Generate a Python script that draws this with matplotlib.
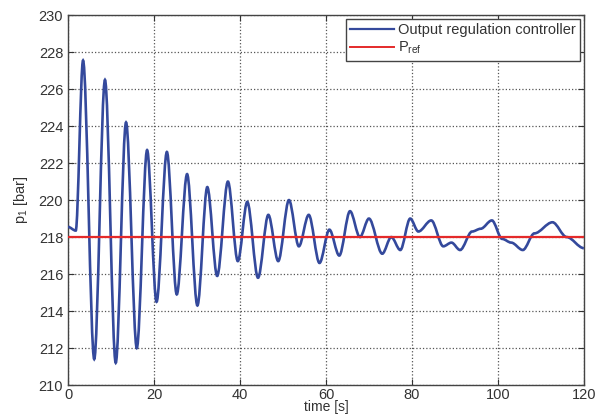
import matplotlib
matplotlib.use("Agg")
import matplotlib.pyplot as plt
from matplotlib.path import Path
from matplotlib.patches import PathPatch
from matplotlib.lines import Line2D

plt.rcParams['font.family'] = ['Liberation Sans', 'DejaVu Sans']
plt.rcParams['mathtext.fontset'] = 'custom'
plt.rcParams['mathtext.rm'] = 'Liberation Sans'
plt.rcParams['mathtext.it'] = 'Liberation Sans:italic'

# turning points of the pressure response (time [s], p1 [bar])
time_s = [0.0, 1.8, 3.5, 6.1, 8.6, 11.1, 13.5, 16.0, 18.4, 20.6, 23.0, 25.3,
          27.7, 30.1, 32.4, 34.7, 37.2, 39.5, 41.7, 44.2, 46.6, 48.9, 51.4,
          53.7, 56.0, 58.5, 60.8, 63.1, 65.6, 67.9, 70.0, 73.1, 75.2, 77.3,
          79.6, 81.5, 84.5, 87.3, 89.2, 91.2, 94.0, 96.0, 98.6, 101.0, 103.1,
          105.8, 108.5, 112.7, 116.0, 120.0]
p1_bar = [218.55, 218.35, 227.55, 211.4, 226.5, 211.2, 224.2, 212.0, 222.7,
          214.5, 222.6, 214.9, 221.4, 214.3, 220.7, 215.9, 221.0, 216.7,
          219.9, 215.8, 219.2, 216.7, 220.0, 217.5, 219.2, 216.6, 218.4,
          217.0, 219.4, 218.0, 219.0, 217.1, 218.0, 217.3, 219.0, 218.3,
          218.9, 217.5, 217.7, 217.3, 218.3, 218.45, 218.9, 217.9, 217.7,
          217.3, 218.2, 218.8, 218.0, 217.4]
p_ref = 218.0

x_ticks = [0, 20, 40, 60, 80, 100, 120]
y_ticks = [210, 212, 214, 216, 218, 220, 222, 224, 226, 228, 230]

blue = '#34499c'
red = '#e42a2a'

fig = plt.figure(figsize=(5.95, 4.17), dpi=100)
ax = fig.add_axes([0.1143, 0.0767, 0.867, 0.887])

# smooth trace: cubic segments with flat tangents at every turning point
verts = [(time_s[0], p1_bar[0])]
codes = [Path.MOVETO]
for i in range(1, len(time_s)):
    t0, y0 = time_s[i - 1], p1_bar[i - 1]
    t1, y1 = time_s[i], p1_bar[i]
    dt = t1 - t0
    verts += [(t0 + dt / 3, y0), (t1 - dt / 3, y1), (t1, y1)]
    codes += [Path.CURVE4] * 3
ax.add_patch(PathPatch(Path(verts, codes), fill=False, edgecolor=blue,
                       linewidth=1.9, zorder=3))

ax.axhline(p_ref, color=red, linewidth=1.6, zorder=4)

ax.set_xlim(0, 120)
ax.set_ylim(210, 230)
ax.set_xticks(x_ticks)
ax.set_yticks(y_ticks)
ax.grid(True, linestyle=':', color='#555555', linewidth=0.9)
ax.tick_params(direction='in', length=4, labelsize=10.5, colors='#333333',
               top=True, right=True)
ax.tick_params(axis='x', pad=2)
for s in ax.spines.values():
    s.set_color('#444444')
    s.set_linewidth(1.0)

ax.set_xlabel('time [s]', fontsize=10, color='#333333', labelpad=-1)
ax.set_ylabel(r'p$_1$ [bar]', fontsize=10.5, color='#333333', labelpad=6)

handles = [Line2D([], [], color=blue, linewidth=1.6),
           Line2D([], [], color=red, linewidth=1.4)]
leg = ax.legend(handles, ['Output regulation controller', r'P$_{\mathrm{ref}}$'],
                loc='upper right', fontsize=10.5, fancybox=False,
                framealpha=1, edgecolor='#444444', borderaxespad=0.25,
                handlelength=3.0, handletextpad=0.3, labelspacing=0.2,
                borderpad=0.3)
leg.get_frame().set_linewidth(1.0)
for txt in leg.get_texts():
    txt.set_color('#333333')

fig.savefig('out.png', dpi=100)
